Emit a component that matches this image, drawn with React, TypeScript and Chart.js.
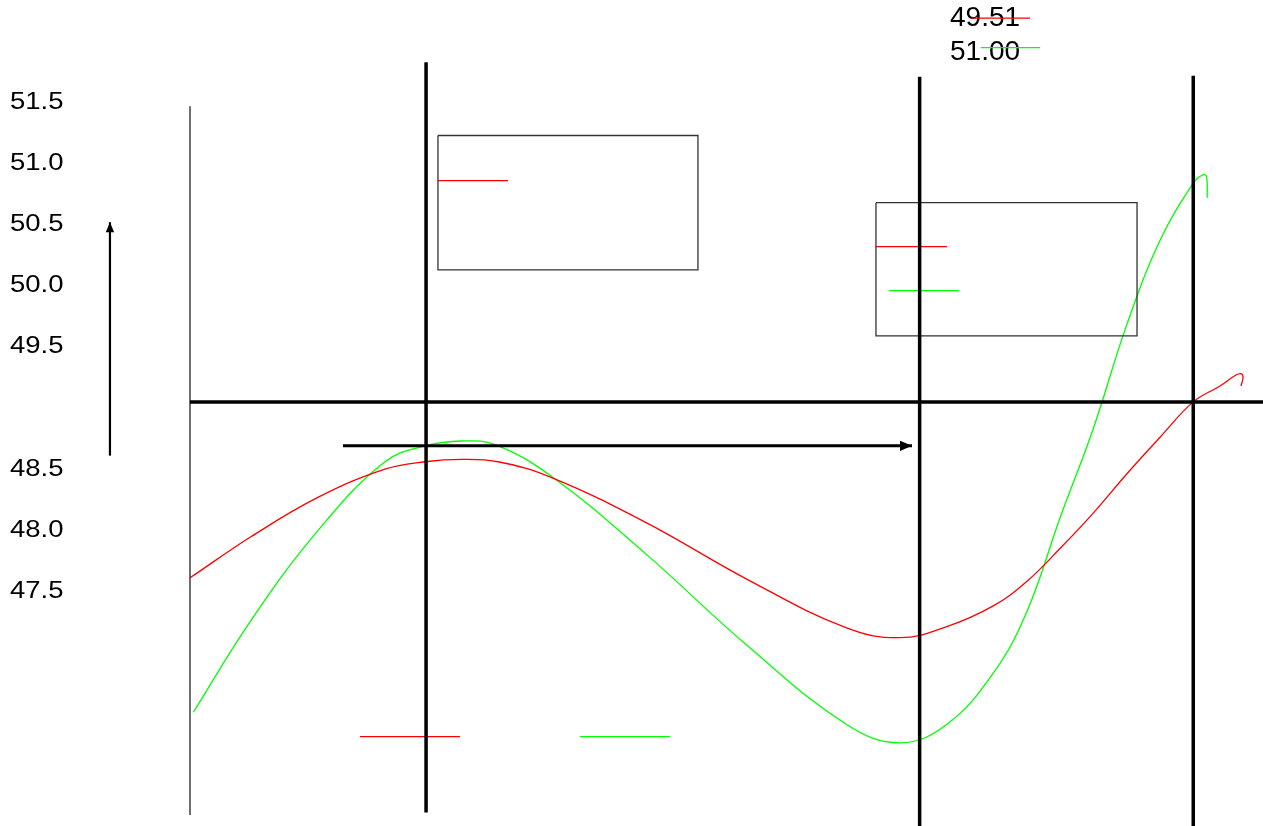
import { useEffect, useRef } from 'react';
import { Chart, registerables } from 'chart.js';

Chart.register(...registerables);

const FONT = '"Liberation Sans", Arial, sans-serif';
const RED = '#ff0000';
const GREEN = '#00ff00';

// y axis tick labels (49.0 is not labelled in the original)
const yTickValues = [51.5, 51.0, 50.5, 50.0, 49.5, 48.5, 48.0, 47.5];

// series 1 (red)
const redX = [0, 5.75, 11.96, 18.17, 21.9, 25.32, 28.73, 33.71, 42.56, 51.88, 61.2, 66.17, 70.52, 74.86, 77.98, 81.08, 84.18, 87.3, 90.4, 93.5, 95.99, 97.48, 97.99, 98.14, 97.95];
const redY = [47.61, 47.95, 48.27, 48.5, 48.56, 48.58, 48.56, 48.43, 48.06, 47.6, 47.2, 47.12, 47.21, 47.38, 47.58, 47.85, 48.14, 48.46, 48.76, 49.05, 49.18, 49.27, 49.28, 49.25, 49.18];

// series 2 (green)
const greenX = [0.31, 5.75, 11.96, 18.17, 21.9, 25.32, 28.43, 33.71, 42.56, 51.88, 61.2, 66.17, 70.52, 74.86, 77.98, 81.08, 84.18, 87.3, 90.4, 93.5, 94.43, 94.75, 94.8];
const greenY = [46.51, 47.27, 48.0, 48.56, 48.69, 48.73, 48.7, 48.44, 47.8, 47.06, 46.41, 46.26, 46.41, 46.83, 47.33, 48.1, 48.83, 49.68, 50.37, 50.84, 50.91, 50.89, 50.72];

// thick vertical guides and horizontal baseline
const guideX = [22, 68, 93.5];
const guideTop = [51.83, 51.71, 51.72];
const guideBottom = [45.69, 45.579, 45.579];
const baselineY = 49.05;

// thin left axis line
const axisTop = 51.47;
const axisBottom = 45.67;

// arrows
const arrowStartX = [-7.46, 14.26];
const arrowStartY = [48.61, 48.69];
const arrowEndX = [-7.46, 67.29];
const arrowEndY = [50.52, 48.69];

// empty legend boxes
const boxLeft = [23.11, 63.93];
const boxRight = [47.34, 88.26];
const boxTop = [51.23, 50.68];
const boxBottom = [50.13, 49.59];

// legend line samples
const sampleStartX = [23.11, 63.93, 65.14, 15.84, 36.35, 72.87, 73.72];
const sampleEndX = [29.64, 70.55, 71.67, 25.16, 44.73, 78.29, 79.22];
const sampleY = [50.86, 50.32, 49.96, 46.31, 46.31, 52.19, 51.95];
const sampleSeries = ['red', 'red', 'green', 'red', 'green', 'red', 'green'];

// top value labels
const topLabels = ['49.51', '51.00'];
const topLabelX = 70.83;
const topLabelY = [52.19, 51.91];

const zip = (xs: number[], ys: number[]) => xs.map((x, i) => ({ x, y: ys[i] }));

const overlayPlugin = {
  id: 'overlay',
  beforeDatasetsDraw(chart: any) {
    const { ctx, scales } = chart;
    ctx.save();
    ctx.fillStyle = '#000';
    ctx.textAlign = 'left';
    ctx.textBaseline = 'middle';
    // y tick labels (slightly wide lettering, as in the original)
    ctx.font = `23.5px ${FONT}`;
    yTickValues.forEach((v) => {
      const py = scales.y.getPixelForValue(v);
      ctx.save();
      ctx.translate(scales.y.left, py);
      ctx.scale(1.17, 1);
      ctx.fillText(v.toFixed(1), 0, 0);
      ctx.restore();
    });
    // top value labels
    ctx.font = `28px ${FONT}`;
    topLabels.forEach((t, i) => {
      ctx.fillText(t, scales.x.getPixelForValue(topLabelX), scales.y.getPixelForValue(topLabelY[i]));
    });
    ctx.restore();
  },
  afterDatasetsDraw(chart: any) {
    const { ctx } = chart;
    chart.data.datasets.forEach((ds: any, i: number) => {
      if (!ds.arrowSize) return;
      const pts = chart.getDatasetMeta(i).data;
      const a = pts[pts.length - 2];
      const b = pts[pts.length - 1];
      const ang = Math.atan2(b.y - a.y, b.x - a.x);
      const len = ds.arrowSize;
      const w = len * 0.42;
      const bx = b.x - Math.cos(ang) * len;
      const by = b.y - Math.sin(ang) * len;
      ctx.save();
      ctx.fillStyle = '#000';
      ctx.beginPath();
      ctx.moveTo(b.x, b.y);
      ctx.lineTo(bx - Math.sin(ang) * w, by + Math.cos(ang) * w);
      ctx.lineTo(bx + Math.sin(ang) * w, by - Math.cos(ang) * w);
      ctx.closePath();
      ctx.fill();
      ctx.restore();
    });
  },
};

export default function App() {
  const ref = useRef<HTMLCanvasElement>(null);

  useEffect(() => {
    if (!ref.current) return;
    const base = { pointRadius: 0, fill: false, clip: false as any, tension: 0 };
    const datasets: any[] = [];

    guideX.forEach((x, i) => {
      datasets.push({ ...base, data: [{ x, y: guideTop[i] }, { x, y: guideBottom[i] }], borderColor: '#000', borderWidth: 3.5 });
    });
    datasets.push({ ...base, data: [{ x: 0, y: baselineY }, { x: 100, y: baselineY }], borderColor: '#000', borderWidth: 3.5 });
    arrowStartX.forEach((x, i) => {
      datasets.push({
        ...base,
        data: [{ x, y: arrowStartY[i] }, { x: arrowEndX[i], y: arrowEndY[i] }],
        borderColor: '#000',
        borderWidth: i === 0 ? 2.2 : 3,
        arrowSize: i === 0 ? 10 : 12,
      });
    });
    datasets.push({ ...base, data: [{ x: 0, y: axisTop }, { x: 0, y: axisBottom }], borderColor: '#222', borderWidth: 1.3 });
    boxLeft.forEach((l, i) => {
      const r = boxRight[i];
      const t = boxTop[i];
      const b = boxBottom[i];
      datasets.push({
        ...base,
        data: [{ x: l, y: t }, { x: r, y: t }, { x: r, y: b }, { x: l, y: b }, { x: l, y: t }],
        borderColor: '#333',
        borderWidth: 1.3,
      });
    });
    sampleStartX.forEach((x, i) => {
      datasets.push({
        ...base,
        data: [{ x, y: sampleY[i] }, { x: sampleEndX[i], y: sampleY[i] }],
        borderColor: sampleSeries[i] === 'red' ? RED : GREEN,
        borderWidth: 1.3,
      });
    });
    datasets.push({ ...base, data: zip(redX, redY), borderColor: RED, borderWidth: 1.3, tension: 0.4 });
    datasets.push({ ...base, data: zip(greenX, greenY), borderColor: GREEN, borderWidth: 1.3, tension: 0.4 });

    const chart = new Chart(ref.current, {
      type: 'line',
      data: { datasets },
      plugins: [overlayPlugin],
      options: {
        animation: false,
        responsive: false,
        layout: { padding: { left: 10, right: 0, top: 0, bottom: 0 } },
        plugins: { legend: { display: false }, tooltip: { enabled: false } },
        elements: { line: { capBezierPoints: false } },
        scales: {
          x: { type: 'linear', min: 0, max: 100, display: false },
          y: {
            type: 'linear',
            position: 'left',
            min: 45.579,
            max: 52.339,
            grid: { display: false, drawTicks: false },
            border: { display: false },
            ticks: { display: false },
            afterFit: (s: any) => {
              s.width = 180;
              s.paddingTop = 0;
              s.paddingBottom = 0;
            },
            afterBuildTicks: (s: any) => {
              s.ticks = yTickValues.map((v) => ({ value: v }));
            },
          },
        },
      } as any,
    });
    return () => chart.destroy();
  }, []);

  return (
    <div style={{ position: 'absolute', left: 0, top: 0, width: 1263, height: 826, background: '#fff' }}>
      <canvas ref={ref} width={1263} height={826} style={{ display: 'block' }} />
    </div>
  );
}
